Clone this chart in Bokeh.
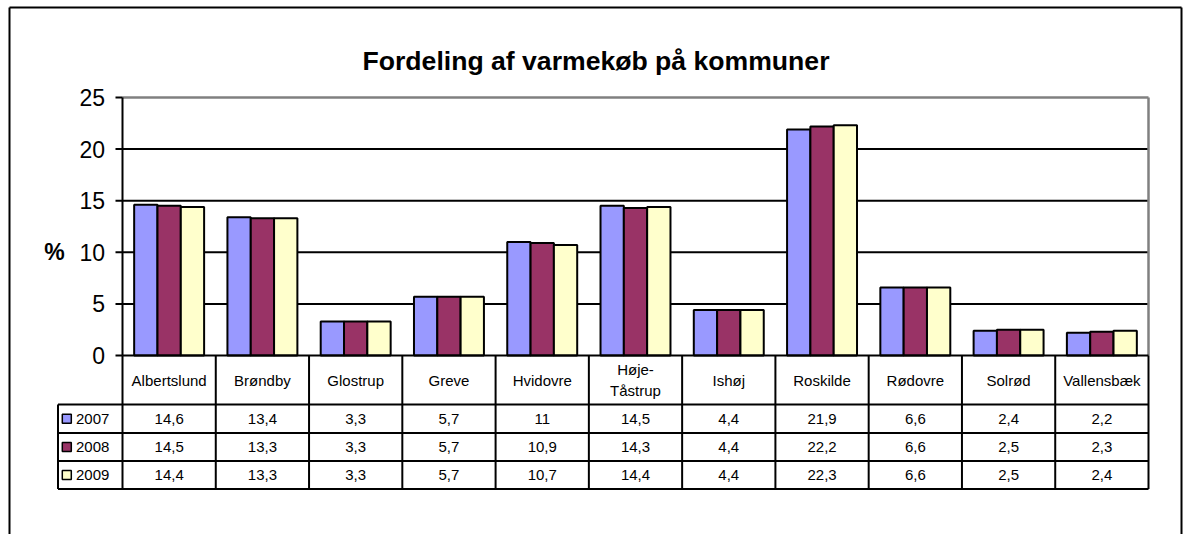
from bokeh.plotting import figure
from bokeh.models import Range1d, Label
from bokeh.core.properties import value
from bokeh.embed import file_html
from bokeh.resources import INLINE

# ---------------- data ----------------
municipalities = ["Albertslund", "Brøndby", "Glostrup", "Greve", "Hvidovre",
                  "Høje-\nTåstrup", "Ishøj", "Roskilde", "Rødovre", "Solrød", "Vallensbæk"]
years = ["2007", "2008", "2009"]
v2007 = [14.6, 13.4, 3.3, 5.7, 11.0, 14.5, 4.4, 21.9, 6.6, 2.4, 2.2]
v2008 = [14.5, 13.3, 3.3, 5.7, 10.9, 14.3, 4.4, 22.2, 6.6, 2.5, 2.3]
v2009 = [14.4, 13.3, 3.3, 5.7, 10.7, 14.4, 4.4, 22.3, 6.6, 2.5, 2.4]
y_ticks = [0, 5, 10, 15, 20, 25]
y_tick_labels = ["0", "5", "10", "15", "20", "25"]
title_text = "Fordeling af varmekøb på kommuner"
y_label = "%"

series = [v2007, v2008, v2009]
colors = ["#9999FF", "#993366", "#FFFFCC"]
FONT = "Liberation Sans"

# ---------------- geometry (screen px) ----------------
X0_PX = 122.0               # screen x of category axis start
CAT_PX = 1026.0 / 11        # px per category
Y0_PX = 355.0               # screen y of value 0
UNIT_PX = 10.32             # px per value unit
CANVAS_W, CANVAS_H = 1185, 534


def dx(px):
    return (px - X0_PX) / CAT_PX


def dy(py):
    return (Y0_PX - py) / UNIT_PX


ncat = len(municipalities)
ymax = y_ticks[-1]
p = figure(width=CANVAS_W, height=CANVAS_H, title=None,
           x_range=Range1d(dx(0), dx(CANVAS_W)),
           y_range=Range1d(dy(CANVAS_H), dy(0)),
           min_border=0, min_border_left=0, min_border_right=0,
           min_border_top=0, min_border_bottom=0,
           x_axis_location=None, y_axis_location=None,
           output_backend="svg", toolbar_location=None)
p.outline_line_color = None
p.background_fill_color = "white"
p.border_fill_color = "white"
p.grid.visible = False

# outer chart border (left, top, right)
p.segment(x0=[dx(9), dx(9), dx(1181)], x1=[dx(9), dx(1181), dx(1181)],
          y0=[dy(7), dy(7), dy(7)], y1=[dy(600), dy(7), dy(600)],
          line_color="black", line_width=2)

# gridlines
grid_vals = [t for t in y_ticks if 0 < t < ymax]
p.segment(x0=[0] * len(grid_vals), x1=[ncat] * len(grid_vals), y0=grid_vals, y1=grid_vals,
          line_color="black", line_width=2)
# plot area border (gray)
p.segment(x0=[0, ncat], x1=[ncat, ncat], y0=[ymax, 0], y1=[ymax, ymax],
          line_color="#808080", line_width=2.5)

# value axis: line, ticks, labels
p.segment(x0=[0], x1=[0], y0=[0], y1=[ymax], line_color="black", line_width=2)
p.segment(x0=[dx(115)] * len(y_ticks), x1=[0] * len(y_ticks), y0=y_ticks, y1=y_ticks,
          line_color="black", line_width=2)
p.text(x=[dx(104.5)] * len(y_ticks), y=y_ticks, text=y_tick_labels, text_align="right",
       text_baseline="middle", text_font=value(FONT), text_font_size="23px",
       text_color="black")

# bars
bw = 0.25
for k, vals in enumerate(series):
    xs = [i + 0.5 + (k - 1) * bw for i in range(ncat)]
    p.vbar(x=xs, top=vals, width=bw, bottom=0, fill_color=colors[k],
           line_color="black", line_width=2)

# ---------------- data table ----------------
row_lines_px = [404, 432.5, 460.5, 488.5]
row_lines = [dy(v) for v in row_lines_px]
x_tab_left = dx(57.5)
# horizontal lines
p.segment(x0=[0], x1=[ncat], y0=[0], y1=[0], line_color="black", line_width=2)
p.segment(x0=[x_tab_left] * 4, x1=[ncat] * 4, y0=row_lines, y1=row_lines,
          line_color="black", line_width=2)
# vertical lines
p.segment(x0=list(range(ncat + 1)), x1=list(range(ncat + 1)),
          y0=[0] * (ncat + 1), y1=[row_lines[-1]] * (ncat + 1),
          line_color="black", line_width=2)
p.segment(x0=[x_tab_left], x1=[x_tab_left], y0=[row_lines[0]], y1=[row_lines[-1]],
          line_color="black", line_width=2)

# category names
p.text(x=[i + 0.5 for i in range(ncat)], y=[row_lines[0] / 2] * ncat, text=municipalities,
       text_align="center", text_baseline="middle", text_font=value(FONT),
       text_font_size="15px", text_color="black", text_line_height=1.25)

row_centers = [(row_lines[j] + row_lines[j + 1]) / 2 for j in range(3)]


def fmt(v):
    return ("%g" % v).replace(".", ",")


for k, vals in enumerate(series):
    p.text(x=[i + 0.5 for i in range(ncat)], y=[row_centers[k]] * ncat,
           text=[fmt(v) for v in vals], text_align="center", text_baseline="middle",
           text_font=value(FONT), text_font_size="15px", text_color="black")

# legend keys in table
p.scatter(x=[dx(66.3)] * 3, y=row_centers, marker="square", size=9,
          fill_color=colors, line_color="black", line_width=1.5)
p.text(x=[dx(75.5)] * 3, y=row_centers, text=years, text_align="left",
       text_baseline="middle", text_font=value(FONT), text_font_size="15px",
       text_color="black")

# title and y label
p.add_layout(Label(x=dx(595.5), y=dy(60.7), text=title_text, text_align="center",
                   text_baseline="alphabetic", text_font=FONT, text_font_size="26.6px",
                   text_font_style="bold", text_color="black"))
p.add_layout(Label(x=dx(54), y=dy(251.7), text=y_label, text_align="center",
                   text_baseline="alphabetic", text_font=FONT, text_font_size="23px",
                   text_font_style="bold", text_color="black"))

open("out.html", "w").write(file_html(p, INLINE))
